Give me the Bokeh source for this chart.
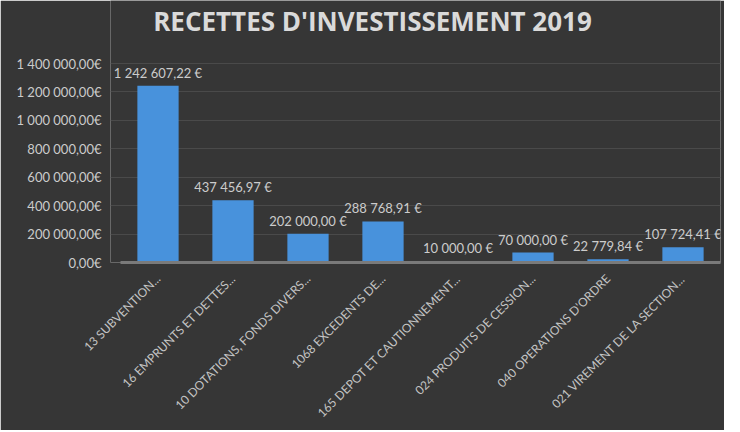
from bokeh.plotting import figure
from bokeh.models import Range1d, FixedTicker, CustomJSTickFormatter, ColumnDataSource, LabelSet, Label
from bokeh.core.properties import value
from bokeh.embed import file_html
from bokeh.resources import INLINE
import math

categories = [
    "13 SUBVENTION...",
    "16 EMPRUNTS ET DETTES...",
    "10 DOTATIONS, FONDS DIVERS...",
    "1068 EXCEDENTS DE...",
    "165 DEPOT ET CAUTIONNEMENT...",
    "024 PRODUITS DE CESSION...",
    "040 OPERATIONS D'ORDRE",
    "021 VIREMENT DE LA SECTION...",
]
values = [1242607.22, 437456.97, 202000.00, 288768.91, 10000.00, 70000.00, 22779.84, 107724.41]
y_ticks = [0, 200000, 400000, 600000, 800000, 1000000, 1200000, 1400000]
title_text = "RECETTES D'INVESTISSEMENT 2019"


def fmt_eur(v):
    s = f"{v:,.2f}".replace(",", " ").replace(".", ",")
    return s + " €"


n = len(categories)
positions = [i + 0.5 for i in range(n)]
labels = [fmt_eur(v) for v in values]
src = ColumnDataSource(dict(x=positions, val=values, lab=labels))

FONT = "Lato"
BG = "#363636"
Y_MAX = 1400000

# layout (pixels): frame spans y 0..262 with 1 400 000 at y=63; x from 110 to 720, 75 px per category
PX_PER_UNIT_Y = Y_MAX / 199.0
Y_TOP = 262 * PX_PER_UNIT_Y
X_START = -10 / 75.0

p = figure(
    x_range=Range1d(X_START, n),
    y_range=Range1d(0, Y_TOP),
    width=724,
    height=430,
    output_backend="svg",
    toolbar_location=None,
    min_border_left=110,
    min_border_right=4,
    min_border_top=0,
    min_border_bottom=168,
    background_fill_color=BG,
    border_fill_color=BG,
    outline_line_color=None,
)

p.vbar(x="x", top="val", width=0.55, source=src, fill_color="#4892dc", line_color=None)
p.add_layout(LabelSet(x="x", y="val", text="lab", source=src, text_align="center",
                      text_baseline="bottom", y_offset=5, text_font=value(FONT),
                      text_font_size="13px", text_color="#cccccc"))

p.add_layout(Label(x=(372 - 120) / 75.0, y=(262 - 20) * PX_PER_UNIT_Y, text=title_text,
                   text_align="center", text_baseline="middle",
                   text_font="Open Sans", text_font_size="26px",
                   text_font_style="bold", text_color="#dadada"))

p.yaxis.ticker = FixedTicker(ticks=y_ticks)
p.yaxis.formatter = CustomJSTickFormatter(code="""
    const s = tick.toFixed(2).split('.');
    const i = s[0].replace(/\\B(?=(\\d{3})+(?!\\d))/g, ' ');
    return i + ',' + s[1] + '€';
""")
p.yaxis.axis_line_color = None
p.yaxis.major_tick_line_color = None
p.yaxis.minor_tick_line_color = None
p.yaxis.major_label_text_font = FONT
p.yaxis.major_label_text_font_size = "13px"
p.yaxis.major_label_text_color = "#cccccc"
p.yaxis.major_label_standoff = 3

p.xaxis.ticker = FixedTicker(ticks=positions)
p.xaxis.major_label_overrides = {pos: cat for pos, cat in zip(positions, categories)}
p.xaxis.bounds = (0, n)
p.xaxis.axis_line_color = "#7a7a7a"
p.xaxis.axis_line_width = 3
p.xaxis.major_tick_line_color = None
p.xaxis.minor_tick_line_color = None
p.xaxis.major_label_orientation = math.pi / 4
p.xaxis.major_label_text_font = FONT
p.xaxis.major_label_text_font_size = "12px"
p.xaxis.major_label_text_color = "#c4c4c4"
p.xaxis.major_label_standoff = 8

p.xgrid.grid_line_color = None
p.ygrid.grid_line_color = "#4a4a4a"
p.ygrid.grid_line_width = 1

open("out.html", "w").write(file_html(p, INLINE))
